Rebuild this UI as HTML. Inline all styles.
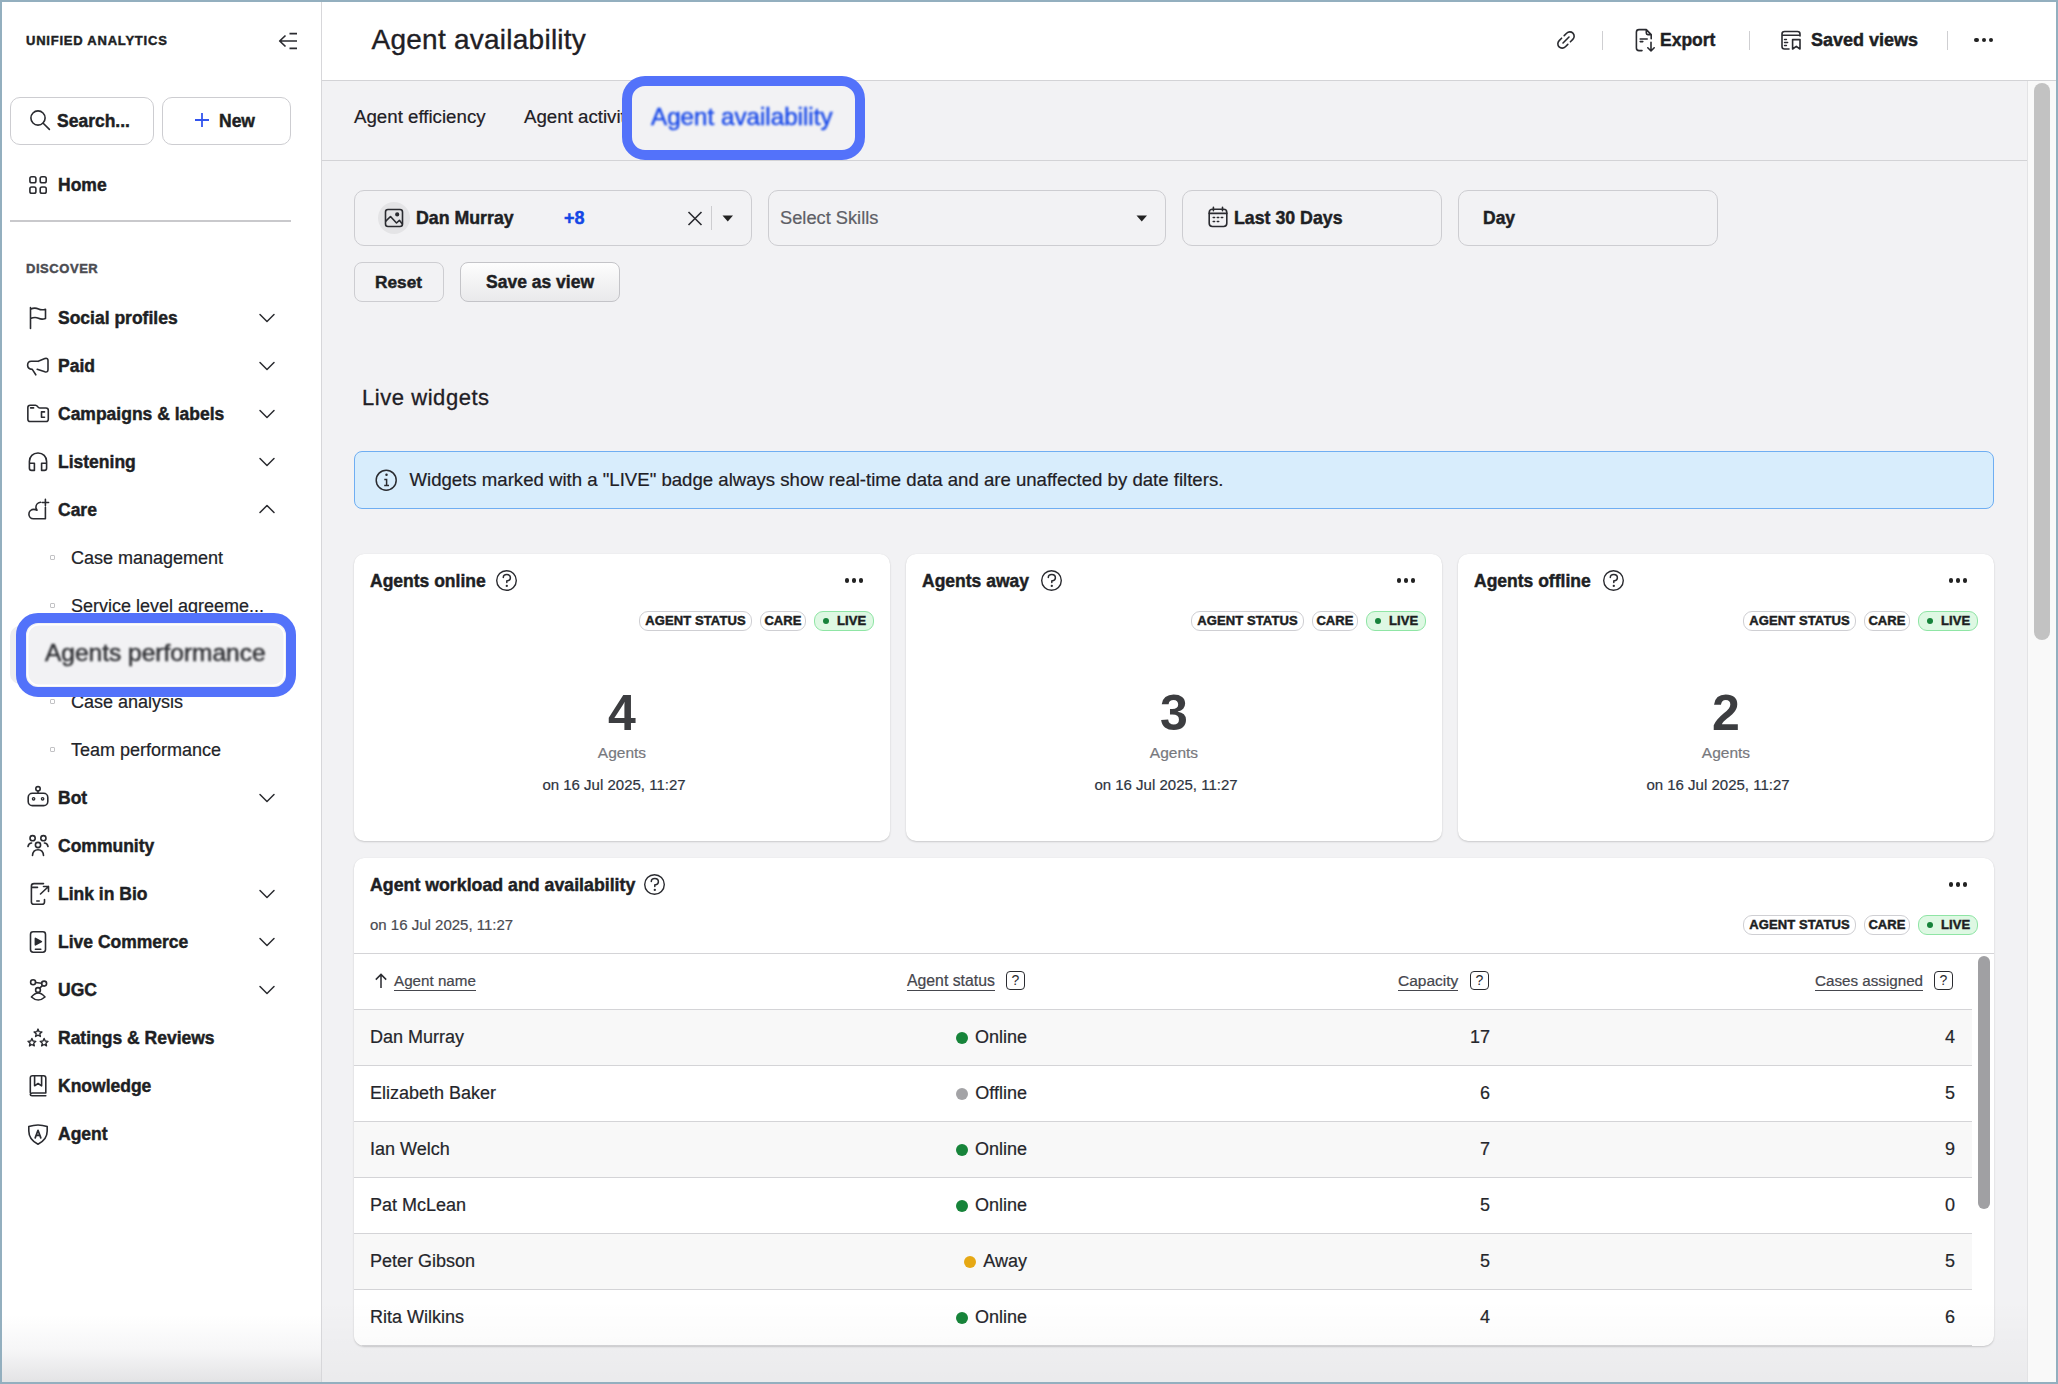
<!DOCTYPE html>
<html><head><meta charset="utf-8">
<style>
*{box-sizing:border-box;margin:0;padding:0}
html,body{width:2058px;height:1384px;overflow:hidden;background:#F2F2F4;font-family:"Liberation Sans",sans-serif;color:#1e1f24;position:relative}
.a{position:absolute}
.t{position:absolute;white-space:nowrap;line-height:24px;height:24px;-webkit-text-stroke:.2px currentColor}
.nv,[style*="font-weight:bold"],.badge{-webkit-text-stroke:.45px currentColor}
svg{position:absolute;overflow:visible}
.ic{fill:none;stroke:#2a2b30;stroke-width:1.6;stroke-linecap:round;stroke-linejoin:round}
.nv{font-weight:bold;font-size:17.5px;left:58px}
.sb{font-size:18px;left:71px;color:#222328}
.bul{position:absolute;left:50px;width:5px;height:5px;border:1px solid #c2c2c5;border-radius:1px}
.chev{fill:none;stroke:#2a2b30;stroke-width:1.5;stroke-linecap:round;stroke-linejoin:round}
.bdr{position:absolute;border:1px solid #cdcdd1;border-radius:10px}
.card{position:absolute;background:#fff;border-radius:10px;box-shadow:0 1px 2px rgba(0,0,0,.16),0 0 1px rgba(0,0,0,.08)}
.badge{position:absolute;height:20px;border:1px solid #cfcfd3;border-radius:9px;font-size:13px;font-weight:bold;line-height:18px;background:#fff;color:#1d1e22;text-align:center;letter-spacing:.1px}
.live{background:#DEF8E3;border-color:#8FE5A5}
.dot6{position:absolute;width:6px;height:6px;border-radius:50%;background:#16823a}
.hl{position:absolute;border:10px solid #5372FA;background:#F2F2F4}
.row{position:absolute;left:354px;width:1618px;height:56px;border-top:1px solid #d4d4d7}
.sd{display:inline-block;width:12px;height:12px;border-radius:50%;margin-right:7px;vertical-align:-1px}
.cell{font-size:18px;color:#25262b}
.num{font-size:18px;color:#25262b;text-align:right;width:60px}
.th{font-size:15.2px;color:#45464d}
.th u{text-decoration:none;border-bottom:1.5px solid #45464d;padding-bottom:1px}
.hq{position:absolute;width:19px;height:19px;border:1.5px solid #2a2b30;border-radius:4px;font-size:14px;line-height:16px;text-align:center;color:#2a2b30}
.dots i{position:absolute;width:4.6px;height:4.6px;border-radius:50%;background:#222}
</style></head><body>

<!-- ============ SIDEBAR ============ -->
<div class="a" style="left:0;top:0;width:321px;height:1384px;background:linear-gradient(#fff 0,#fff 1315px,#f6f6f7 1350px,#e2e2e4 1384px)"></div>
<div class="a" style="left:321px;top:0;width:1px;height:1384px;background:#d7d7da"></div>

<div class="t" style="left:26px;top:29px;font-size:13px;font-weight:bold;letter-spacing:.78px">UNIFIED ANALYTICS</div>
<svg style="left:278px;top:31px" width="22" height="20" class="ic"><path d="M7.5 4.5L1.7 10L7.5 15.5M1.8 10H19M11.5 2.6H19M11.5 17.3H19" stroke="#2a2b30" stroke-width="1.7" fill="none" stroke-linecap="butt"/></svg>

<div class="bdr" style="left:10px;top:97px;width:144px;height:48px;border-radius:10px"></div>
<svg style="left:29px;top:110px" width="22" height="22"><circle cx="9" cy="8" r="7.1" fill="none" stroke="#2a2b30" stroke-width="1.6"/><path d="M14.2 13.2L20.4 19.4" stroke="#2a2b30" stroke-width="1.6" stroke-linecap="round"/></svg>
<div class="t nv" style="left:57px;top:109px">Search...</div>
<div class="bdr" style="left:162px;top:97px;width:129px;height:48px;border-radius:10px"></div>
<svg style="left:194px;top:112px" width="16" height="16"><path d="M8 1V15M1 8H15" stroke="#3355ee" stroke-width="1.8"/></svg>
<div class="t nv" style="left:219px;top:109px">New</div>

<svg style="left:27px;top:174px" width="22" height="22" class="ic"><rect x="2.9" y="2.8" width="6" height="6" rx="1.8"/><rect x="13.2" y="2.8" width="6" height="6" rx="1.8"/><rect x="2.9" y="13" width="6" height="6.2" rx="1.8"/><rect x="13.2" y="13" width="6" height="6.2" rx="1.8"/></svg>
<div class="t nv" style="top:173px">Home</div>
<div class="a" style="left:10px;top:220px;width:281px;height:2px;background:#c9c9cc"></div>

<div class="t" style="left:26px;top:257px;font-size:13px;font-weight:bold;color:#4b4c52;letter-spacing:.55px">DISCOVER</div>

<!-- nav items -->
<svg style="left:28px;top:306px" width="22" height="24" class="ic"><path d="M2.5 1.5V22.5M2.5 3.2C6 1.5 8 1.8 10.5 3C13 4.2 15 4 17.5 3.2V12.5C15 13.4 13 13.5 10.5 12.3C8 11.1 6 11 2.5 12.6"/></svg>
<div class="t nv" style="top:306px">Social profiles</div>
<svg style="left:258px;top:312px" width="18" height="12" class="chev"><path d="M2 2.5L9 9.5L16 2.5"/></svg>

<svg style="left:26px;top:356px" width="24" height="22" class="ic"><path d="M12.2 5.3L18.9 2.6Q22 1.8 22 4.5V13.5Q22 16.6 18.9 15.8L11.2 13.2M12.2 5.3H5.3C3 5.3 1.6 7 1.6 9.2C1.6 11.5 3.2 13 6.3 13.4L9.8 18.8"/></svg>
<div class="t nv" style="top:354px">Paid</div>
<svg style="left:258px;top:360px" width="18" height="12" class="chev"><path d="M2 2.5L9 9.5L16 2.5"/></svg>

<svg style="left:26px;top:403px" width="24" height="20" class="ic"><path d="M1.85 4.5C1.85 3 2.8 2.2 4.2 2.2H9.5C10.5 2.2 11 2.8 11.6 3.6C12.2 4.5 12.8 5 13.8 5H20C21.3 5 22.3 6 22.3 7.3V16.2C22.3 17.5 21.3 18.5 20 18.5H4.2C2.8 18.5 1.85 17.5 1.85 16.2Z"/><path d="M4.6 4.9H7.6M18.5 8.9H15.5V14.3H18.5"/></svg>
<div class="t nv" style="top:402px">Campaigns &amp; labels</div>
<svg style="left:258px;top:408px" width="18" height="12" class="chev"><path d="M2 2.5L9 9.5L16 2.5"/></svg>

<svg style="left:27px;top:451px" width="22" height="22" class="ic"><path d="M2.4 14V10.5C2.4 5.5 6 2 11 2S19.6 5.5 19.6 10.5V14M2.4 12.2H7.4V19.4H4.6C3.3 19.4 2.4 18.6 2.4 17.3ZM19.6 12.2H14.6V19.4H17.4C18.7 19.4 19.6 18.6 19.6 17.3Z"/></svg>
<div class="t nv" style="top:450px">Listening</div>
<svg style="left:258px;top:456px" width="18" height="12" class="chev"><path d="M2 2.5L9 9.5L16 2.5"/></svg>

<svg style="left:27px;top:498px" width="24" height="22" class="ic"><path d="M18.4 1.4V7.6M15.2 4.5H21.6M13.5 4.2C10.5 4.6 8.6 7 9 10.2L10 12.2C9 11.6 8 11.4 6.8 11.4C3.9 11.4 1.9 13.6 1.9 16.2C1.9 18.7 3.8 20.7 6.4 20.7H18.4V9.2"/></svg>
<div class="t nv" style="top:498px">Care</div>
<svg style="left:258px;top:503px" width="18" height="12" class="chev"><path d="M2 9.5L9 2.5L16 9.5"/></svg>

<div class="bul" style="top:555px"></div>
<div class="t sb" style="top:546px">Case management</div>
<div class="bul" style="top:603px"></div>
<div class="t sb" style="top:594px">Service level agreeme...</div>
<div class="bul" style="top:699px"></div>
<div class="t sb" style="top:690px">Case analysis</div>
<div class="bul" style="top:747px"></div>
<div class="t sb" style="top:738px">Team performance</div>

<svg style="left:26px;top:786px" width="24" height="24" class="ic"><circle cx="12" cy="2.8" r="2.2"/><path d="M12 5V7.3"/><rect x="2.2" y="7.3" width="19.6" height="12.3" rx="4.2"/><circle cx="7.6" cy="12.8" r="1.2" stroke-width="1.3"/><circle cx="16.6" cy="12.8" r="1.2" stroke-width="1.3"/></svg>
<div class="t nv" style="top:786px">Bot</div>
<svg style="left:258px;top:792px" width="18" height="12" class="chev"><path d="M2 2.5L9 9.5L16 2.5"/></svg>

<svg style="left:26px;top:834px" width="24" height="24" class="ic"><circle cx="6.6" cy="4.2" r="2.6"/><circle cx="17.4" cy="4.2" r="2.6"/><circle cx="12" cy="11" r="2.6"/><path d="M2 12.5C2.5 10 4 9 5.6 9M22 12.5C21.5 10 20 9 18.4 9M6.5 21.5C6.8 17.8 9 15.8 12 15.8S17.2 17.8 17.5 21.5"/></svg>
<div class="t nv" style="top:834px">Community</div>

<svg style="left:28px;top:882px" width="24" height="24" class="ic"><path d="M16.5 17.5V20C16.5 21.5 15.5 22.3 14 22.3H6C4.5 22.3 3.4 21.3 3.4 20V4C3.4 2.6 4.5 1.6 6 1.6H15.5M3.4 5.4H9.5M8.8 19H11.2M12.5 12L20.5 4.5M15.5 4.5H20.5V9.5"/></svg>
<div class="t nv" style="top:882px">Link in Bio</div>
<svg style="left:258px;top:888px" width="18" height="12" class="chev"><path d="M2 2.5L9 9.5L16 2.5"/></svg>

<svg style="left:28px;top:930px" width="20" height="24" class="ic"><rect x="2.5" y="1.8" width="15" height="20.4" rx="2.6"/><path d="M7.4 8.4L13.4 11.6L7.4 14.8Z" fill="#2a2b30"/><path d="M7.4 19.2H12.8"/></svg>
<div class="t nv" style="top:930px">Live Commerce</div>
<svg style="left:258px;top:936px" width="18" height="12" class="chev"><path d="M2 2.5L9 9.5L16 2.5"/></svg>

<svg style="left:28px;top:979px" width="22" height="22" class="ic"><circle cx="5.1" cy="3.2" r="2.5"/><circle cx="16.1" cy="4.6" r="2.5"/><circle cx="10" cy="11" r="2.4"/><path d="M7.6 3.5L13.6 4.3M14.5 6.6L11.5 9.1M3.4 18Q10.2 10 17 18Q10.2 24 3.4 18Z"/></svg>
<div class="t nv" style="top:978px">UGC</div>
<svg style="left:258px;top:984px" width="18" height="12" class="chev"><path d="M2 2.5L9 9.5L16 2.5"/></svg>

<svg style="left:26px;top:1025px" width="24" height="24" class="ic" style="stroke-width:1.4"><path d="M12.00 4.10L13.12 6.66L15.90 6.93L13.81 8.79L14.41 11.52L12.00 10.10L9.59 11.52L10.19 8.79L8.10 6.93L10.88 6.66ZM5.90 13.50L7.02 16.06L9.80 16.33L7.71 18.19L8.31 20.92L5.90 19.50L3.49 20.92L4.09 18.19L2.00 16.33L4.78 16.06ZM18.10 13.50L19.22 16.06L22.00 16.33L19.91 18.19L20.51 20.92L18.10 19.50L15.69 20.92L16.29 18.19L14.20 16.33L16.98 16.06Z" stroke-width="1.4"/></svg>
<div class="t nv" style="top:1026px">Ratings &amp; Reviews</div>

<svg style="left:28px;top:1075px" width="20" height="22" class="ic"><path d="M2.3 17.6V3C2.3 1.6 3.1 0.7 4.5 0.7H15.6C17 0.7 17.8 1.6 17.8 3V18H4.5C3 18 2.3 18.8 2.3 19.6C2.3 20.4 3 20.8 4 20.8H17.8M6.6 0.8V10.8L10.1 8.5L13.6 10.8V0.8"/></svg>
<div class="t nv" style="top:1074px">Knowledge</div>

<svg style="left:27px;top:1122px" width="22" height="24" class="ic"><path d="M1.8 4.6Q11 1.4 20.2 4.6V9C20.2 14.8 16.6 19.4 11 22.2C5.4 19.4 1.8 14.8 1.8 9Z"/><path d="M8.2 15.9L11 8.3L13.8 15.9M9.1 13.4H12.9" stroke-width="1.7"/></svg>
<div class="t nv" style="top:1122px">Agent</div>

<!-- Agents performance highlight -->
<div class="a" style="left:10px;top:626px;width:20px;height:58px;background:#eeeef0;border-radius:10px 0 0 10px"></div>
<div class="hl" style="left:16px;top:613px;width:280px;height:84px;border-radius:22px">
  <div class="a" style="left:1px;top:1px;right:1px;bottom:1px;border-radius:12px;box-shadow:inset 0 0 0 1.5px #fff"></div>
</div>
<div class="t" style="left:45px;top:641px;font-size:24.5px;line-height:24px;color:#2e2f33;filter:blur(1px);-webkit-text-stroke:.5px #2e2f33">Agents performance</div>

<!-- ============ HEADER ============ -->
<div class="a" style="left:322px;top:0;width:1736px;height:80px;background:#fff"></div>
<div class="a" style="left:322px;top:80px;width:1736px;height:1px;background:#d3d3d6"></div>
<div class="t" style="left:371.5px;top:28px;font-size:28px;letter-spacing:.25px;color:#1f2025;-webkit-text-stroke:.35px #1f2025">Agent availability</div>

<svg style="left:1555px;top:29px" width="22" height="22" class="ic"><path d="M9.2 6.6L11.6 4.2C13.4 2.4 16.2 2.4 17.9 4.1S19.6 8.6 17.8 10.4L15.4 12.8M12.8 15.4L10.4 17.8C8.6 19.6 5.8 19.6 4.1 17.9S2.4 13.4 4.2 11.6L6.6 9.2M8 14L14 8"/></svg>
<div class="a" style="left:1602px;top:31px;width:1px;height:19px;background:#cfcfd2"></div>
<svg style="left:1634px;top:28px" width="24" height="26" class="ic"><path d="M8 22.6H5C3.4 22.6 2.4 21.6 2.4 20V4.2C2.4 2.6 3.4 1.6 5 1.6H12.3L17.2 6.6V10.8M12.3 1.6V5C12.3 6 12.8 6.6 13.8 6.6H17.2M6.2 11H13.2M6.2 13.6H8.8M17 14.2V23M13.8 19.8L17 23L20.2 19.8"/></svg>
<div class="t" style="left:1660px;top:28px;font-size:17.5px;font-weight:bold">Export</div>
<div class="a" style="left:1749px;top:31px;width:1px;height:19px;background:#cfcfd2"></div>
<svg style="left:1780px;top:29px" width="24" height="24" class="ic"><path d="M9 20H4.5C3 20 2 19 2 17.5V5C2 3.5 3 2.5 4.5 2.5H17.5C19 2.5 20 3.5 20 5V7M2 6.2H20M4.6 10.5H6.4M4.6 13.5H7.6M4.6 16.5H6.4M12.6 20V10.6H20V20L16.3 17.4L12.6 20Z"/></svg>
<div class="t" style="left:1811px;top:28px;font-size:18px;font-weight:bold">Saved views</div>
<div class="a" style="left:1947px;top:31px;width:1px;height:19px;background:#cfcfd2"></div>
<div class="dots"><i style="left:1974.4px;top:37.5px"></i><i style="left:1981.5px;top:37.5px"></i><i style="left:1988.6px;top:37.5px"></i></div>

<!-- ============ TABS ============ -->
<div class="a" style="left:322px;top:160px;width:1705px;height:1px;background:#d3d3d6"></div>
<div class="t" style="left:354px;top:105px;font-size:18.7px;color:#1f2025">Agent efficiency</div>
<div class="t" style="left:524px;top:105px;font-size:18.7px;color:#1f2025">Agent activity</div>
<div class="hl" style="left:622px;top:76px;width:243px;height:84px;border-radius:23px"></div>
<div class="t" style="left:651px;top:105px;font-size:24.2px;color:#1a4ae8;filter:blur(1px);-webkit-text-stroke:.5px #1a4ae8">Agent availability</div>

<!-- ============ FILTERS ============ -->
<div class="bdr" style="left:354px;top:190px;width:398px;height:56px"></div>
<div class="a" style="left:378px;top:202px;width:32px;height:32px;border-radius:50%;background:#e4e4e6"></div>
<svg style="left:384px;top:208px" width="20" height="20" class="ic"><rect x="1.5" y="1.5" width="17" height="17" rx="2.5"/><circle cx="13.2" cy="6.4" r="1.3" fill="#2a2b30"/><path d="M1.8 13.1L6.5 8.5L12.5 15L15.4 12.3L18.3 16"/></svg>
<div class="t" style="left:416px;top:206px;font-size:17.75px;font-weight:bold">Dan Murray</div>
<div class="t" style="left:564px;top:206px;font-size:18px;font-weight:bold;color:#1447e6">+8</div>
<svg style="left:687px;top:211px" width="16" height="15"><path d="M1.5 1L14.5 14M14.5 1L1.5 14" stroke="#2a2b30" stroke-width="1.6"/></svg>
<div class="a" style="left:711px;top:206px;width:1px;height:24px;background:#cdcdd0"></div>
<svg style="left:722px;top:215px" width="12" height="8"><path d="M0.5 0.5H11L5.75 6.5Z" fill="#222"/></svg>

<div class="bdr" style="left:768px;top:190px;width:398px;height:56px"></div>
<div class="t" style="left:780px;top:206px;font-size:18.25px;color:#5e5f66">Select Skills</div>
<svg style="left:1136px;top:215px" width="12" height="8"><path d="M0.5 0.5H11L5.75 6.5Z" fill="#222"/></svg>

<div class="bdr" style="left:1182px;top:190px;width:260px;height:56px"></div>
<svg style="left:1207px;top:206px" width="22" height="22" class="ic"><rect x="2.2" y="3.2" width="17.6" height="17.3" rx="3.2"/><path d="M2.2 7.4H19.8M6.4 1.3V4.7M15.5 1.3V4.7"/><path d="M6.2 11.4H7.6M10.3 11.4H11.7M14.3 11.4H15.7M6.2 15.4H7.6M10.3 15.4H11.7" stroke-width="1.5"/></svg>
<div class="t" style="left:1234px;top:206px;font-size:17.75px;font-weight:bold">Last 30 Days</div>

<div class="bdr" style="left:1458px;top:190px;width:260px;height:56px"></div>
<div class="t" style="left:1483px;top:206px;font-size:17.5px;font-weight:bold">Day</div>

<div class="bdr" style="left:354px;top:262px;width:90px;height:40px;border-radius:8px"></div>
<div class="t" style="left:375px;top:270px;font-size:17.25px;font-weight:bold">Reset</div>
<div class="bdr" style="left:460px;top:262px;width:160px;height:40px;border-radius:8px;border-color:#c4c4c8;background:linear-gradient(#fdfdfd,#e9e9eb)"></div>
<div class="t" style="left:486px;top:270px;font-size:17.5px;font-weight:bold">Save as view</div>

<!-- ============ LIVE WIDGETS ============ -->
<div class="t" style="left:362px;top:386px;font-size:22px;letter-spacing:.55px;color:#1f2025;-webkit-text-stroke:.3px #1f2025">Live widgets</div>
<div class="a" style="left:354px;top:451px;width:1640px;height:58px;background:#D8EDFC;border:1px solid #6FAEF2;border-radius:8px"></div>
<svg style="left:375px;top:469px" width="24" height="24"><circle cx="11.2" cy="11.2" r="10" fill="none" stroke="#2a2b30" stroke-width="1.5"/><circle cx="11.5" cy="5.8" r="1.25" fill="#2a2b30"/><path d="M9.3 10.4H11.6V16.6M9.2 16.6H14" stroke="#2a2b30" stroke-width="1.5" fill="none"/></svg>
<div class="t" style="left:409.5px;top:468px;font-size:18.6px;color:#1f2025">Widgets marked with a "LIVE" badge always show real-time data and are unaffected by date filters.</div>

<div class="card" style="left:354px;top:554px;width:536px;height:287px"></div>
<div class="t" style="left:370px;top:569px;font-size:17.5px;font-weight:bold">Agents online</div>
<svg style="left:496px;top:570px" width="22" height="22"><circle cx="10.5" cy="10.5" r="9.8" fill="none" stroke="#2a2b30" stroke-width="1.4"/><path d="M7.3 7.6C7.3 5.6 8.9 4.6 10.8 4.6S14.4 5.8 14.4 7.9C14.4 10 12.5 10.6 10.8 10.9V12.6" fill="none" stroke="#2a2b30" stroke-width="1.5" stroke-linecap="round"/><circle cx="10.8" cy="15.9" r="1.15" fill="#2a2b30"/></svg>
<div class="dots"><i style="left:844.5px;top:578.3px"></i><i style="left:851.5px;top:578.3px"></i><i style="left:858.5px;top:578.3px"></i></div>
<div class="badge" style="left:639px;top:611px;width:113px">AGENT STATUS</div>
<div class="badge" style="left:760px;top:611px;width:46px">CARE</div>
<div class="badge live" style="left:814px;top:611px;width:60px;text-align:left;padding-left:22px">LIVE</div>
<div class="dot6" style="left:822.5px;top:617.5px"></div>
<div class="t" style="left:354px;top:701px;width:536px;text-align:center;font-size:50px;line-height:24px;font-weight:bold;color:#3c3d40;-webkit-text-stroke:0">4</div>
<div class="t" style="left:354px;top:741px;width:536px;text-align:center;font-size:15.5px;color:#77787d">Agents</div>
<div class="t" style="left:346px;top:773px;width:536px;text-align:center;font-size:15px;color:#2e3440">on 16 Jul 2025, 11:27</div>

<div class="card" style="left:906px;top:554px;width:536px;height:287px"></div>
<div class="t" style="left:922px;top:569px;font-size:17.5px;font-weight:bold">Agents away</div>
<svg style="left:1041px;top:570px" width="22" height="22"><circle cx="10.5" cy="10.5" r="9.8" fill="none" stroke="#2a2b30" stroke-width="1.4"/><path d="M7.3 7.6C7.3 5.6 8.9 4.6 10.8 4.6S14.4 5.8 14.4 7.9C14.4 10 12.5 10.6 10.8 10.9V12.6" fill="none" stroke="#2a2b30" stroke-width="1.5" stroke-linecap="round"/><circle cx="10.8" cy="15.9" r="1.15" fill="#2a2b30"/></svg>
<div class="dots"><i style="left:1396.5px;top:578.3px"></i><i style="left:1403.5px;top:578.3px"></i><i style="left:1410.5px;top:578.3px"></i></div>
<div class="badge" style="left:1191px;top:611px;width:113px">AGENT STATUS</div>
<div class="badge" style="left:1312px;top:611px;width:46px">CARE</div>
<div class="badge live" style="left:1366px;top:611px;width:60px;text-align:left;padding-left:22px">LIVE</div>
<div class="dot6" style="left:1374.5px;top:617.5px"></div>
<div class="t" style="left:906px;top:701px;width:536px;text-align:center;font-size:50px;line-height:24px;font-weight:bold;color:#3c3d40;-webkit-text-stroke:0">3</div>
<div class="t" style="left:906px;top:741px;width:536px;text-align:center;font-size:15.5px;color:#77787d">Agents</div>
<div class="t" style="left:898px;top:773px;width:536px;text-align:center;font-size:15px;color:#2e3440">on 16 Jul 2025, 11:27</div>

<div class="card" style="left:1458px;top:554px;width:536px;height:287px"></div>
<div class="t" style="left:1474px;top:569px;font-size:17.5px;font-weight:bold">Agents offline</div>
<svg style="left:1603px;top:570px" width="22" height="22"><circle cx="10.5" cy="10.5" r="9.8" fill="none" stroke="#2a2b30" stroke-width="1.4"/><path d="M7.3 7.6C7.3 5.6 8.9 4.6 10.8 4.6S14.4 5.8 14.4 7.9C14.4 10 12.5 10.6 10.8 10.9V12.6" fill="none" stroke="#2a2b30" stroke-width="1.5" stroke-linecap="round"/><circle cx="10.8" cy="15.9" r="1.15" fill="#2a2b30"/></svg>
<div class="dots"><i style="left:1948.5px;top:578.3px"></i><i style="left:1955.5px;top:578.3px"></i><i style="left:1962.5px;top:578.3px"></i></div>
<div class="badge" style="left:1743px;top:611px;width:113px">AGENT STATUS</div>
<div class="badge" style="left:1864px;top:611px;width:46px">CARE</div>
<div class="badge live" style="left:1918px;top:611px;width:60px;text-align:left;padding-left:22px">LIVE</div>
<div class="dot6" style="left:1926.5px;top:617.5px"></div>
<div class="t" style="left:1458px;top:701px;width:536px;text-align:center;font-size:50px;line-height:24px;font-weight:bold;color:#3c3d40;-webkit-text-stroke:0">2</div>
<div class="t" style="left:1458px;top:741px;width:536px;text-align:center;font-size:15.5px;color:#77787d">Agents</div>
<div class="t" style="left:1450px;top:773px;width:536px;text-align:center;font-size:15px;color:#2e3440">on 16 Jul 2025, 11:27</div>

<div class="card" style="left:354px;top:858px;width:1640px;height:488px;overflow:hidden">
</div>
<div class="t" style="left:370px;top:873px;font-size:17.75px;font-weight:bold">Agent workload and availability</div>
<svg style="left:644px;top:874px" width="22" height="22"><circle cx="10.5" cy="10.5" r="9.8" fill="none" stroke="#2a2b30" stroke-width="1.4"/><path d="M7.3 7.6C7.3 5.6 8.9 4.6 10.8 4.6S14.4 5.8 14.4 7.9C14.4 10 12.5 10.6 10.8 10.9V12.6" fill="none" stroke="#2a2b30" stroke-width="1.5" stroke-linecap="round"/><circle cx="10.8" cy="15.9" r="1.15" fill="#2a2b30"/></svg>
<div class="dots"><i style="left:1948.5px;top:882.3px"></i><i style="left:1955.5px;top:882.3px"></i><i style="left:1962.5px;top:882.3px"></i></div>
<div class="t" style="left:370px;top:913px;font-size:15px;color:#4a4b52">on 16 Jul 2025, 11:27</div>
<div class="badge" style="left:1743px;top:915px;width:113px">AGENT STATUS</div>
<div class="badge" style="left:1864px;top:915px;width:46px">CARE</div>
<div class="badge live" style="left:1918px;top:915px;width:60px;text-align:left;padding-left:22px">LIVE</div>
<div class="dot6" style="left:1926.5px;top:921.5px"></div>
<div class="a" style="left:354px;top:953px;width:1640px;height:1px;background:#d4d4d7"></div>
<svg style="left:374px;top:973px" width="14" height="16"><path d="M7 1.5V15M1.8 6.6L7 1.4L12.2 6.6" fill="none" stroke="#2a2b30" stroke-width="1.5"/></svg>
<div class="t th" style="left:394px;top:969px"><u>Agent name</u></div>
<div class="t th" style="left:907px;top:969px;font-size:15.8px"><u>Agent status</u></div>
<div class="hq" style="left:1006px;top:971px">?</div>
<div class="t th" style="left:1398px;top:969px;font-size:15.5px"><u>Capacity</u></div>
<div class="hq" style="left:1470px;top:971px">?</div>
<div class="t th" style="left:1815px;top:969px"><u>Cases assigned</u></div>
<div class="hq" style="left:1934px;top:971px">?</div>
<div class="row" style="top:1009px;background:#f8f8f8"></div>
<div class="t cell" style="left:370px;top:1025px">Dan Murray</div>
<div class="t cell" style="left:827px;width:200px;text-align:right;top:1025px"><i class="sd" style="background:#17843a"></i>Online</div>
<div class="t num" style="left:1430px;top:1025px">17</div>
<div class="t num" style="left:1895px;top:1025px">4</div>
<div class="row" style="top:1065px;background:#fff"></div>
<div class="t cell" style="left:370px;top:1081px">Elizabeth Baker</div>
<div class="t cell" style="left:827px;width:200px;text-align:right;top:1081px"><i class="sd" style="background:#a3a3a6"></i>Offline</div>
<div class="t num" style="left:1430px;top:1081px">6</div>
<div class="t num" style="left:1895px;top:1081px">5</div>
<div class="row" style="top:1121px;background:#f8f8f8"></div>
<div class="t cell" style="left:370px;top:1137px">Ian Welch</div>
<div class="t cell" style="left:827px;width:200px;text-align:right;top:1137px"><i class="sd" style="background:#17843a"></i>Online</div>
<div class="t num" style="left:1430px;top:1137px">7</div>
<div class="t num" style="left:1895px;top:1137px">9</div>
<div class="row" style="top:1177px;background:#fff"></div>
<div class="t cell" style="left:370px;top:1193px">Pat McLean</div>
<div class="t cell" style="left:827px;width:200px;text-align:right;top:1193px"><i class="sd" style="background:#17843a"></i>Online</div>
<div class="t num" style="left:1430px;top:1193px">5</div>
<div class="t num" style="left:1895px;top:1193px">0</div>
<div class="row" style="top:1233px;background:#f8f8f8"></div>
<div class="t cell" style="left:370px;top:1249px">Peter Gibson</div>
<div class="t cell" style="left:827px;width:200px;text-align:right;top:1249px"><i class="sd" style="background:#e6a814"></i>Away</div>
<div class="t num" style="left:1430px;top:1249px">5</div>
<div class="t num" style="left:1895px;top:1249px">5</div>
<div class="row" style="top:1289px;background:#fff;border-bottom-left-radius:10px"></div>
<div class="t cell" style="left:370px;top:1305px">Rita Wilkins</div>
<div class="t cell" style="left:827px;width:200px;text-align:right;top:1305px"><i class="sd" style="background:#17843a"></i>Online</div>
<div class="t num" style="left:1430px;top:1305px">4</div>
<div class="t num" style="left:1895px;top:1305px">6</div>
<div class="a" style="left:362px;top:1345px;width:1610px;height:1px;background:#d4d4d7"></div>
<div class="a" style="left:1978px;top:956px;width:12px;height:253px;border-radius:6px;background:#a0a0a3"></div>
<!-- main scrollbar -->
<div class="a" style="left:2027px;top:81px;width:31px;height:1303px;background:#f9f9f9;border-left:1px solid #e3e3e5"></div>
<div class="a" style="left:2034px;top:83px;width:16px;height:557px;border-radius:8px;background:#c2c2c2"></div>
<!-- bottom shade -->
<div class="a" style="left:322px;top:1300px;width:1705px;height:84px;background:linear-gradient(rgba(0,0,0,0),rgba(0,0,0,.03))"></div>
<!-- frame border -->
<div class="a" style="left:0;top:0;width:2058px;height:2px;background:#93AFBF"></div>
<div class="a" style="left:0;top:1382px;width:2058px;height:2px;background:#93AFBF"></div>
<div class="a" style="left:0;top:0;width:2px;height:1384px;background:#93AFBF"></div>
<div class="a" style="left:2056px;top:0;width:2px;height:1384px;background:#93AFBF"></div>
</body></html>
